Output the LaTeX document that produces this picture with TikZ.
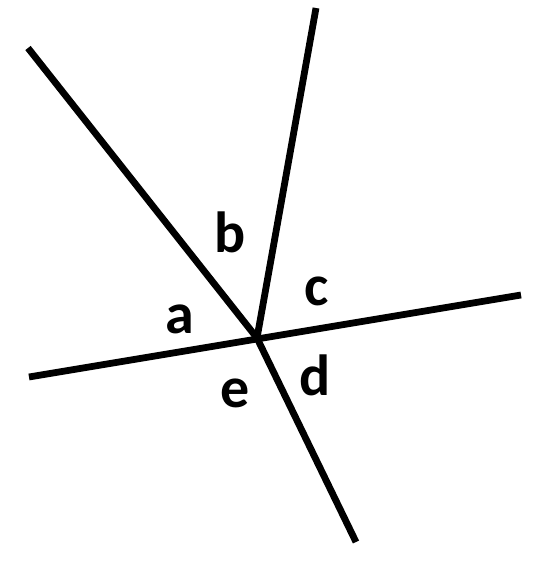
\documentclass[tikz,border=0pt]{standalone}
\usepackage{fontspec}
\setmainfont{Carlito}
\begin{document}
\begin{tikzpicture}[x=1pt,y=-1pt,
  ray/.style={line width=6.8pt,line cap=butt},
  lbl/.style={anchor=base,inner sep=0pt,font=\fontsize{58}{60}\selectfont\bfseries}]
\useasboundingbox (0,0) rectangle (533,565);
\coordinate (O) at (257,338);
\coordinate (p1) at (28,48);
\coordinate (p2) at (356,542);
\coordinate (q) at (316,8);
\coordinate (r1) at (29,377);
\coordinate (r2) at (521,295);
\draw[ray] (p1) -- (O);
\draw[ray] (O) -- (p2);
\draw[ray] (q) -- (O);
\draw[ray] (r1) -- (r2);
\node[lbl] (a) at (180,333) {a};
\node[lbl] (b) at (230,252) {b};
\node[lbl] (c) at (317,305) {c};
\node[lbl] (d) at (315,395) {d};
\node[lbl] (e) at (235,407) {e};
\end{tikzpicture}
\end{document}
